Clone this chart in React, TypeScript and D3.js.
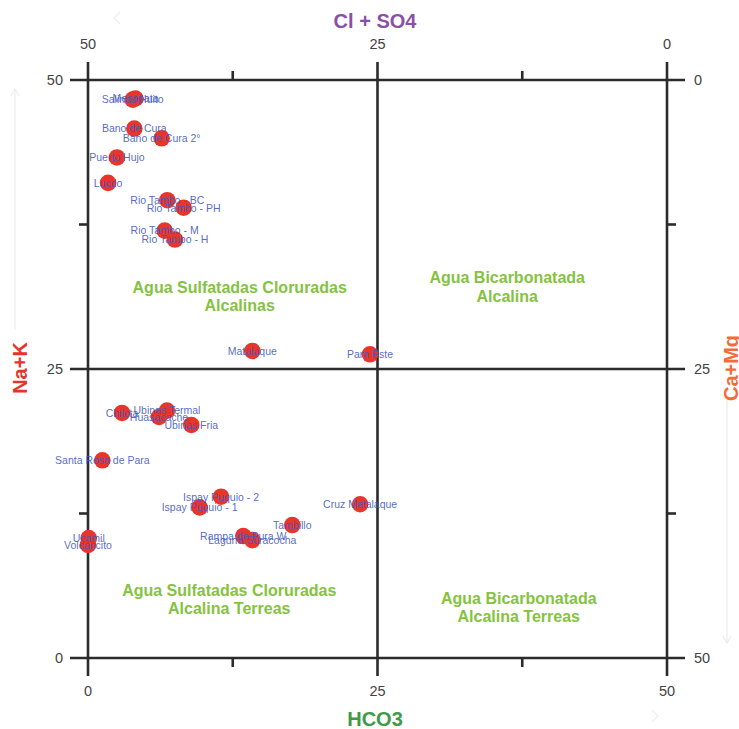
import React, { useEffect } from "react";
import * as d3 from "d3";

const sampleNames = [
  "Salinas Huito", "Mesapata", "Bano de Cura", "Bano de Cura 2°", "Puerto Hujo", "Lucdo",
  "Rio Tambo - BC", "Rio Tambo - PH", "Rio Tambo - M", "Rio Tambo - H",
  "Matalaque", "Para Este", "Chilota", "Huasacache", "Ubinas Termal", "Ubinas Fria",
  "Santa Rosa de Para", "Ispay Puquio - 2", "Ispay Puquio - 1", "Tambillo",
  "Rampa de Pura W", "Laguna Suracocha", "Ucamil", "Volcancito", "Cruz Matalaque",
];
const hco3Values = [
  3.86, 4.1, 4.0, 6.36, 2.5, 1.73,
  6.85, 8.26, 6.62, 7.51,
  14.19, 24.35, 2.94, 6.13, 6.82, 8.92,
  1.24, 11.49, 9.64, 17.64,
  13.41, 14.19, 0.06, 0.0, 23.5,
];
const naKValues = [
  48.3, 48.4, 45.8, 44.96, 43.3, 41.1,
  39.6, 38.95, 36.97, 36.2,
  26.56, 26.27, 21.2, 20.85, 21.4, 20.16,
  17.1, 13.95, 13.03, 11.5,
  10.55, 10.2, 10.38, 9.78, 13.3,
];

const majorTicks = [0, 25, 50];
const minorTicks = [12.5, 37.5];
const bottomTickLabels = ["0", "25", "50"];
const topTickLabels = ["50", "25", "0"];
const leftTickLabels = ["0", "25", "50"];
const rightTickLabels = ["50", "25", "0"];

const quadrantLines = [
  ["Agua Sulfatadas Cloruradas", "Alcalinas"],
  ["Agua Bicarbonatada", "Alcalina"],
  ["Agua Sulfatadas Cloruradas", "Alcalina Terreas"],
  ["Agua Bicarbonatada", "Alcalina Terreas"],
];
const quadrantPos = [
  [13.1, 31.6],
  [36.2, 32.4],
  [12.2, 5.4],
  [37.2, 4.7],
];

export default function App() {
  useEffect(() => {
    document.body.style.margin = "0";
    document.body.style.overflow = "hidden";
  }, []);

  const W = 739, H = 729;
  const x = d3.scaleLinear().domain([0, 50]).range([88, 667]);
  const y = d3.scaleLinear().domain([0, 50]).range([658, 80]);
  const ext = 18, minor = 9;
  const lineColor = "#2b2b2b";
  const font = "Liberation Sans, Arial, sans-serif";

  return (
    <svg width={W} height={H} style={{ position: "absolute", left: 0, top: 0, background: "#fff" }}>
      {/* faint arrows */}
      <g stroke="#ececec" strokeWidth={1.2} fill="none">
        <line x1={15} y1={330} x2={15} y2={90} />
        <path d="M11,96 L15,89 L19,96" />
        <line x1={727} y1={400} x2={727} y2={642} />
        <path d="M723,636 L727,643 L731,636" />
        <path d="M120,12 L114,18 L120,24" />
        <path d="M652,710 L658,716 L652,722" />
      </g>

      {/* grid lines */}
      <g stroke={lineColor} strokeWidth={2.6}>
        {majorTicks.map((v) => (
          <line key={"h" + v} x1={x(0) - ext} x2={x(50) + ext} y1={y(v)} y2={y(v)} />
        ))}
        {majorTicks.map((v) => (
          <line key={"v" + v} x1={x(v)} x2={x(v)} y1={y(50) - ext} y2={y(0) + ext} />
        ))}
        {minorTicks.map((v) => (
          <g key={"m" + v}>
            <line x1={x(v)} x2={x(v)} y1={y(50) - minor} y2={y(50)} />
            <line x1={x(v)} x2={x(v)} y1={y(0)} y2={y(0) + minor} />
            <line x1={x(0) - minor} x2={x(0)} y1={y(v)} y2={y(v)} />
            <line x1={x(50)} x2={x(50) + minor} y1={y(v)} y2={y(v)} />
          </g>
        ))}
      </g>

      {/* tick labels */}
      <g fontFamily={font} fontSize={14.5} fill="#444">
        {majorTicks.map((v, i) => (
          <text key={"b" + v} x={x(v)} y={696} textAnchor="middle">{bottomTickLabels[i]}</text>
        ))}
        {majorTicks.map((v, i) => (
          <text key={"t" + v} x={x(v)} y={49} textAnchor="middle">{topTickLabels[i]}</text>
        ))}
        {majorTicks.map((v, i) => (
          <text key={"l" + v} x={63} y={y(v) + 5} textAnchor="end">{leftTickLabels[i]}</text>
        ))}
        {majorTicks.map((v, i) => (
          <text key={"r" + v} x={694} y={y(v) + 5} textAnchor="start">{rightTickLabels[i]}</text>
        ))}
      </g>

      {/* axis titles */}
      <g fontFamily={font} fontWeight="bold" fontSize={20}>
        <text x={375} y={28} textAnchor="middle" fill="#8b4fa6">Cl + SO4</text>
        <text x={375} y={726} textAnchor="middle" fill="#3f9a4a">HCO3</text>
        <text transform={`translate(27,368) rotate(-90)`} textAnchor="middle" fill="#e8332a">Na+K</text>
        <text transform={`translate(738,368) rotate(-90)`} textAnchor="middle" fill="#f26b38">Ca+Mg</text>
      </g>

      {/* quadrant labels */}
      <g fontFamily={font} fontWeight="bold" fontSize={16} fill="#84c341" textAnchor="middle">
        {quadrantLines.map((lines, i) => (
          <text key={"q" + i} x={x(quadrantPos[i][0])} y={y(quadrantPos[i][1])}>
            {lines.map((l, j) => (
              <tspan key={j} x={x(quadrantPos[i][0])} dy={j === 0 ? 0 : 18.5}>{l}</tspan>
            ))}
          </text>
        ))}
      </g>

      {/* points */}
      <g fill="#e8352b">
        {sampleNames.map((n, i) => (
          <circle key={"c" + i} cx={x(hco3Values[i])} cy={y(naKValues[i])} r={8.3} />
        ))}
      </g>
      <g fontFamily={font} fontSize={10.5} fill="#4259c0" fillOpacity={0.9} textAnchor="middle">
        {sampleNames.map((n, i) => (
          <text key={"t" + i} x={x(hco3Values[i])} y={y(naKValues[i]) + 3.8}>{n}</text>
        ))}
      </g>
    </svg>
  );
}
